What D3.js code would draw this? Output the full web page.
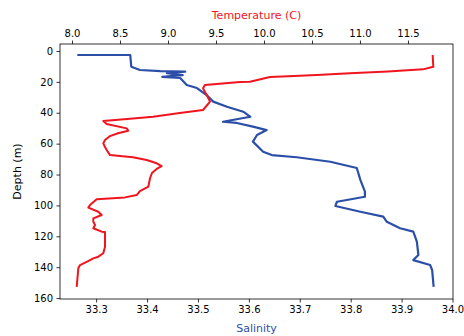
<!DOCTYPE html>
<html>
<head>
<meta charset="utf-8">
<script src="https://cdn.jsdelivr.net/npm/d3@7"></script>
<style>
  body { margin: 0; background: #fff; }
  svg { display: block; font-family: "DejaVu Sans", sans-serif; }
</style>
</head>
<body>
<div id="chart"></div>
<script>
// salinity profile (blue)
const salDepth = [2.6, 2.6, 10.2, 12.3, 13.0, 13.4, 14.4, 15.6, 16.8, 17.5, 22.0, 24.0, 28.5, 32.8, 36.1, 39.3, 42.6, 45.8, 46.6, 49.0, 51.2, 54.4, 58.7, 65.2, 67.4, 68.8, 71.7, 75.8, 83.5, 91.1, 94.4, 97.6, 100.4, 104.1, 107.3, 110.6, 114.8, 117.0, 123.5, 132.1, 135.4, 138.6, 141.8, 152.7];
const salinity = [33.263, 33.367, 33.369, 33.386, 33.426, 33.475, 33.439, 33.470, 33.430, 33.465, 33.478, 33.498, 33.517, 33.530, 33.557, 33.589, 33.603, 33.549, 33.576, 33.608, 33.635, 33.616, 33.608, 33.628, 33.645, 33.694, 33.760, 33.812, 33.819, 33.828, 33.828, 33.773, 33.770, 33.819, 33.864, 33.871, 33.897, 33.923, 33.930, 33.933, 33.923, 33.956, 33.960, 33.963];

// temperature profile (red)
const tempDepth = [2.6, 10.2, 11.9, 13.3, 14.4, 15.5, 16.0, 16.8, 19.9, 20.1, 22.0, 24.2, 28.5, 32.8, 38.2, 40.3, 42.6, 43.7, 45.3, 47.3, 50.1, 51.6, 53.3, 55.1, 57.6, 59.8, 62.2, 64.1, 67.4, 68.8, 70.6, 72.7, 74.5, 76.4, 79.0, 82.4, 87.9, 90.7, 93.3, 94.8, 96.0, 99.7, 101.4, 104.1, 106.2, 108.4, 110.6, 112.7, 114.8, 117.0, 117.2, 126.7, 131.0, 133.2, 134.3, 136.5, 138.6, 140.7, 152.7];
const temperature = [11.757, 11.764, 11.656, 11.29, 10.896, 10.549, 10.375, 10.063, 9.854, 9.75, 9.385, 9.365, 9.403, 9.438, 9.365, 9.104, 8.844, 8.635, 8.326, 8.361, 8.570, 8.586, 8.479, 8.396, 8.344, 8.326, 8.344, 8.361, 8.396, 8.635, 8.778, 8.882, 8.934, 8.882, 8.833, 8.813, 8.795, 8.708, 8.674, 8.552, 8.257, 8.188, 8.170, 8.274, 8.309, 8.222, 8.222, 8.240, 8.222, 8.309, 8.344, 8.344, 8.326, 8.274, 8.222, 8.153, 8.083, 8.066, 8.049];

const tempTicks = [8.0, 8.5, 9.0, 9.5, 10.0, 10.5, 11.0, 11.5];
const salTicks = [33.3, 33.4, 33.5, 33.6, 33.7, 33.8, 33.9, 34.0];
const depthTicks = [0, 20, 40, 60, 80, 100, 120, 140, 160];

const W = 464, H = 336;
const m = { t: 44, r: 11, b: 37, l: 60 };
const blue = '#2b4fa8', red = '#f0141e';

const svg = d3.select('#chart').append('svg').attr('width', W).attr('height', H);

const y = d3.scaleLinear().domain([-4.53, 160.6]).range([m.t, H - m.b]);
const xs = d3.scaleLinear().domain([33.229, 34.001]).range([m.l, W - m.r]);
const xt = d3.scaleLinear().domain([7.875, 11.969]).range([m.l, W - m.r]);

const fmt1 = d3.format('.1f');

const axB = svg.append('g').attr('transform', `translate(0,${H - m.b})`)
  .call(d3.axisBottom(xs).tickValues(salTicks).tickFormat(fmt1).tickSize(3.5).tickPadding(3.5));
const axT = svg.append('g').attr('transform', `translate(0,${m.t})`)
  .call(d3.axisTop(xt).tickValues(tempTicks).tickFormat(fmt1).tickSize(3.5).tickPadding(3.5));
const axL = svg.append('g').attr('transform', `translate(${m.l},0)`)
  .call(d3.axisLeft(y).tickValues(depthTicks).tickSize(3.5).tickPadding(3.5));

[axB, axT, axL].forEach(a => {
  a.select('.domain').remove();
  a.selectAll('text').attr('font-size', 10).attr('fill', '#000').attr('font-family', '"DejaVu Sans", sans-serif');
  a.selectAll('line').attr('stroke', '#000').attr('stroke-width', 0.8);
});

const lineS = d3.line().x((d, i) => xs(salinity[i])).y(d => y(d));
const lineT = d3.line().x((d, i) => xt(temperature[i])).y(d => y(d));

const plot = svg.append('g');
plot.append('path').attr('d', lineS(salDepth)).attr('fill', 'none')
  .attr('stroke', blue).attr('stroke-width', 2.2).attr('stroke-linejoin', 'round');
plot.append('path').attr('d', lineT(tempDepth)).attr('fill', 'none')
  .attr('stroke', red).attr('stroke-width', 2).attr('stroke-linejoin', 'round');

svg.append('rect').attr('x', m.l).attr('y', m.t)
  .attr('width', W - m.r - m.l).attr('height', H - m.b - m.t)
  .attr('fill', 'none').attr('stroke', '#000').attr('stroke-width', 0.8);

svg.append('text').attr('x', (m.l + W - m.r) / 2).attr('y', 19)
  .attr('text-anchor', 'middle').attr('font-size', 11).attr('fill', red)
  .text('Temperature (C)');
svg.append('text').attr('x', (m.l + W - m.r) / 2).attr('y', 332)
  .attr('text-anchor', 'middle').attr('font-size', 11).attr('fill', blue)
  .text('Salinity');
svg.append('text').attr('transform', `translate(21,${(m.t + H - m.b) / 2}) rotate(-90)`)
  .attr('text-anchor', 'middle').attr('font-size', 11).attr('fill', '#000')
  .text('Depth (m)');
</script>
</body>
</html>
